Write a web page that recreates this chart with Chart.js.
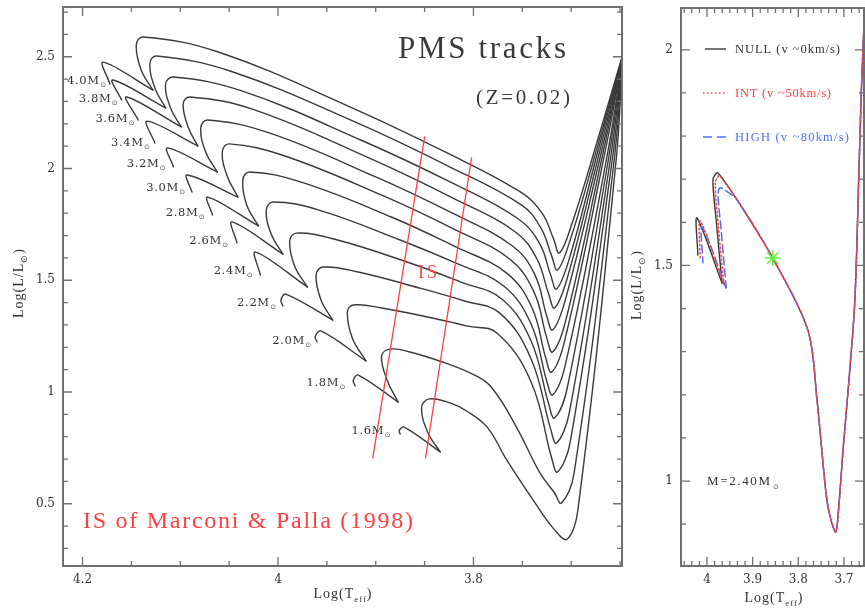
<!DOCTYPE html>
<html>
<head>
  <title>PMS tracks</title>
  <script src="https://cdn.jsdelivr.net/npm/chart.js"></script>
  <style>
    body { margin: 0; background: #fff; }
    #wrap { position: relative; width: 865px; height: 610px; overflow: hidden; }
    canvas { position: absolute; top: 0; }
    #left { left: 0; }
    #right { left: 625px; }
  </style>
</head>
<body>
<div id="wrap">
  <canvas id="left" width="625" height="610"></canvas>
  <canvas id="right" width="240" height="610"></canvas>
</div>
<script>
// ---- left panel: PMS tracks, [logTeff, logL], from Hayashi end to the V tip ----
const masses = ['1.6', '1.8', '2.0', '2.2', '2.4', '2.6', '2.8', '3.0', '3.2', '3.4', '3.6', '3.8', '4.0'];

const trk16 = [[3.648,2.445],[3.654,2.038],[3.693,0.477],[3.704,0.342],[3.717,0.383],[3.739,0.517],[3.766,0.696],[3.786,0.843],[3.807,0.915],[3.824,0.951],[3.845,0.969],[3.853,0.933],[3.847,0.821],[3.834,0.732]];
const trk18 = [[3.648,2.450],[3.656,2.038],[3.697,0.638],[3.710,0.503],[3.717,0.548],[3.732,0.638],[3.756,0.843],[3.781,1.018],[3.799,1.076],[3.829,1.130],[3.865,1.179],[3.885,1.192],[3.894,1.161],[3.888,1.049],[3.877,0.955]];
const trk20 = [[3.648,2.454],[3.658,2.038],[3.701,0.776],[3.714,0.642],[3.720,0.705],[3.741,1.045],[3.776,1.264],[3.806,1.295],[3.842,1.331],[3.894,1.376],[3.923,1.389],[3.929,1.358],[3.924,1.242],[3.910,1.139]];
const trk22 = [[3.648,2.459],[3.660,2.038],[3.702,0.906],[3.715,0.772],[3.721,0.834],[3.741,1.148],[3.773,1.353],[3.809,1.407],[3.855,1.465],[3.918,1.537],[3.954,1.559],[3.961,1.523],[3.956,1.412],[3.944,1.322]];
const trk24 = [[3.648,2.463],[3.662,2.038],[3.704,1.018],[3.717,0.884],[3.723,0.946],[3.741,1.228],[3.771,1.416],[3.813,1.492],[3.865,1.577],[3.939,1.680],[3.981,1.711],[3.988,1.676],[3.983,1.564],[3.970,1.470]];
const trk26 = [[3.648,2.467],[3.664,2.038],[3.706,1.121],[3.719,0.987],[3.725,1.049],[3.741,1.304],[3.769,1.474],[3.816,1.573],[3.875,1.680],[3.958,1.814],[4.005,1.850],[4.012,1.814],[4.007,1.707],[3.995,1.617]];
const trk28 = [[3.648,2.472],[3.667,2.038],[3.707,1.224],[3.720,1.089],[3.726,1.152],[3.740,1.376],[3.766,1.532],[3.818,1.649],[3.884,1.783],[3.977,1.940],[4.029,1.984],[4.036,1.949],[4.032,1.837],[4.020,1.743]];
const trk30 = [[3.648,2.476],[3.669,2.038],[3.706,1.313],[3.719,1.179],[3.725,1.242],[3.738,1.447],[3.763,1.595],[3.820,1.729],[3.892,1.877],[3.993,2.056],[4.050,2.110],[4.057,2.074],[4.052,1.966],[4.041,1.872]];
const trk32 = [[3.648,2.481],[3.671,2.038],[3.706,1.412],[3.719,1.277],[3.725,1.340],[3.737,1.523],[3.760,1.653],[3.822,1.801],[3.900,1.962],[4.009,2.159],[4.072,2.217],[4.079,2.181],[4.074,2.074],[4.062,1.984]];
const trk34 = [[3.648,2.485],[3.673,2.038],[3.704,1.510],[3.717,1.376],[3.723,1.438],[3.735,1.595],[3.757,1.716],[3.823,1.872],[3.907,2.047],[4.024,2.262],[4.090,2.320],[4.097,2.289],[4.092,2.186],[4.082,2.101]];
const trk36 = [[3.648,2.490],[3.675,2.038],[3.702,1.595],[3.715,1.461],[3.721,1.523],[3.732,1.662],[3.754,1.774],[3.824,1.940],[3.913,2.123],[4.037,2.347],[4.107,2.409],[4.115,2.378],[4.110,2.271],[4.099,2.186]];
const trk38 = [[3.648,2.494],[3.677,2.038],[3.701,1.680],[3.714,1.546],[3.720,1.609],[3.731,1.734],[3.751,1.837],[3.826,2.011],[3.919,2.204],[4.049,2.436],[4.124,2.503],[4.131,2.472],[4.126,2.360],[4.115,2.271]];
const trk40 = [[3.648,2.499],[3.679,2.038],[3.699,1.756],[3.712,1.622],[3.718,1.685],[3.730,1.801],[3.752,1.895],[3.829,2.074],[3.926,2.275],[4.061,2.521],[4.138,2.588],[4.145,2.553],[4.140,2.441],[4.128,2.351]];

// last hook: V tip -> small peak -> ZAMS end
const hook16 = [[3.834,0.732],[3.871,0.843],[3.876,0.827],[3.875,0.812]];
const hook18 = [[3.877,0.955],[3.918,1.076],[3.923,1.051],[3.921,1.027]];
const hook20 = [[3.910,1.139],[3.956,1.273],[3.962,1.248],[3.960,1.224]];
const hook22 = [[3.944,1.322],[3.992,1.438],[3.997,1.411],[3.995,1.385]];
const hook24 = [[3.970,1.470],[4.023,1.626],[4.018,1.523]];
const hook26 = [[3.995,1.617],[4.047,1.761],[4.042,1.667]];
const hook28 = [[4.020,1.743],[4.072,1.872],[4.067,1.792]];
const hook30 = [[4.041,1.872],[4.093,1.971],[4.088,1.895]];
const hook32 = [[4.062,1.984],[4.113,2.092],[4.107,2.007]];
const hook34 = [[4.082,2.101],[4.134,2.212],[4.126,2.114]];
const hook36 = [[4.099,2.186],[4.155,2.320],[4.143,2.217]];
const hook38 = [[4.115,2.271],[4.169,2.396],[4.160,2.306]];
const hook40 = [[4.128,2.351],[4.179,2.476],[4.172,2.378]];

// where each mass label sits (the sun symbol), same order as masses
const labelAt = [[3.888,0.808],[3.934,1.022],[3.969,1.210],[4.005,1.380],[4.029,1.523],[4.054,1.658],[4.078,1.783],[4.098,1.895],[4.118,2.002],[4.134,2.096],[4.150,2.204],[4.167,2.293],[4.179,2.374]];

// instability strip edges (Marconi & Palla 1998)
const isBlue = [[3.850,2.141],[3.903,0.705]];
const isRed = [[3.802,2.047],[3.849,0.705]];

const leftXTicks = [4.2, 4.0, 3.8];
const leftYTicks = [0.5, 1, 1.5, 2, 2.5];

// ---- right panel: 2.40 Msun with rotation ----
const rotShared = [[3.654,2.104],[3.661,1.930],[3.667,1.722],[3.676,1.420],[3.689,1.234],[3.702,1.072],[3.711,0.944],[3.718,0.882],[3.731,0.921],[3.740,0.979],[3.759,1.188],[3.779,1.350],[3.856,1.517],[3.934,1.652]];
const nullTop = [[3.967,1.703],[3.978,1.715],[3.987,1.698],[3.980,1.606],[3.967,1.459]];
const nullHook = [[3.967,1.459],[4.022,1.610],[4.020,1.524]];
const intTop = [[3.965,1.698],[3.974,1.708],[3.982,1.691],[3.976,1.601],[3.963,1.455]];
const intHook = [[3.963,1.455],[4.015,1.603],[4.015,1.517]];
const highTop = [[3.961,1.675],[3.972,1.680],[3.976,1.664],[3.969,1.582],[3.958,1.448]];
const highHook = [[3.958,1.448],[4.011,1.589],[4.009,1.506]];
const starPt = [[3.856,1.517]];

const rightXTicks = [4, 3.9, 3.8, 3.7];
const rightYTicks = [1, 1.5, 2];

// ---------------------------------------------------------------
const pts = a => a.map(([x, y]) => ({x, y}));
const INK = '#3a3a3a';
const RED = '#ff4040';
const BLUE = '#4d6dff';
const tickFont = {family: 'DejaVu Serif', size: 12};

function fitText(ctx, text, x, y, width, font, color) {
  ctx.save();
  ctx.font = font;
  ctx.fillStyle = color;
  ctx.textAlign = 'left';
  ctx.textBaseline = 'alphabetic';
  ctx.letterSpacing = '0px';
  const w = ctx.measureText(text).width;
  const n = [...text].length;
  if (n > 1 && width > w) ctx.letterSpacing = ((width - w) / (n - 1)) + 'px';
  ctx.fillText(text, x, y);
  ctx.restore();
}

// text with subscript parts: [[text, isSub], ...]
function rich(ctx, parts, x, y, size, rotate) {
  ctx.save();
  ctx.fillStyle = '#333';
  ctx.textAlign = 'left';
  ctx.textBaseline = 'alphabetic';
  ctx.letterSpacing = '1px';
  let w = 0;
  const items = parts.map(([t, sub]) => {
    const s = sub ? size * 0.62 : size;
    ctx.font = s + 'px "Liberation Serif"';
    const m = ctx.measureText(t).width;
    w += m;
    return [t, sub, s, m];
  });
  ctx.translate(x, y);
  if (rotate) ctx.rotate(-Math.PI / 2);
  let cx = -w / 2;
  items.forEach(([t, sub, s, m]) => {
    ctx.font = s + 'px "Liberation Serif"';
    ctx.fillText(t, cx, sub ? size * 0.62 : size * 0.35);
    cx += m;
  });
  ctx.restore();
}

function sun(ctx, x, y) {
  ctx.save();
  ctx.font = '7px "DejaVu Sans"';
  ctx.fillStyle = '#555';
  ctx.textAlign = 'center';
  ctx.textBaseline = 'middle';
  ctx.fillText('\u2299', x, y);
  ctx.restore();
}

function frame(chart, xStep, yStep, xMajor, yMajor) {
  const {ctx, chartArea: a, scales: {x, y}} = chart;
  const isMajor = (list, v) => list.some(m => Math.abs(m - v) < 1e-6);
  ctx.save();
  ctx.strokeStyle = '#707070';
  ctx.lineWidth = 1.3;
  ctx.beginPath();
  for (let k = Math.ceil(x.min / xStep - 1e-6); k * xStep <= x.max + 1e-9; k++) {
    const v = k * xStep, p = x.getPixelForValue(v);
    const len = isMajor(xMajor, v) ? 9 : 5;
    ctx.moveTo(p, a.bottom); ctx.lineTo(p, a.bottom - len);
    ctx.moveTo(p, a.top); ctx.lineTo(p, a.top + len);
  }
  for (let k = Math.ceil(y.min / yStep - 1e-6); k * yStep <= y.max + 1e-9; k++) {
    const v = k * yStep, p = y.getPixelForValue(v);
    const len = isMajor(yMajor, v) ? 9 : 5;
    ctx.moveTo(a.left, p); ctx.lineTo(a.left + len, p);
    ctx.moveTo(a.right, p); ctx.lineTo(a.right - len, p);
  }
  ctx.stroke();
  ctx.lineWidth = 2;
  ctx.strokeRect(a.left, a.top, a.right - a.left, a.bottom - a.top);
  ctx.restore();
}

function axes(xMin, xMax, yMin, yMax, yWidth, xTicks, yTicks) {
  const tk = {padding: 7, font: tickFont, color: '#333', autoSkip: false, maxRotation: 0, callback: v => String(v)};
  return {
    x: {
      type: 'linear', reverse: true, min: xMin, max: xMax,
      afterFit: s => { s.height = 44; s.paddingLeft = 0; s.paddingRight = 0; },
      afterBuildTicks: s => { s.ticks = xTicks.map(v => ({value: v})); },
      grid: {display: false, drawTicks: false}, border: {display: false},
      ticks: tk
    },
    y: {
      type: 'linear', min: yMin, max: yMax,
      afterFit: s => { s.width = yWidth; s.paddingTop = 0; s.paddingBottom = 0; },
      afterBuildTicks: s => { s.ticks = yTicks.map(v => ({value: v})); },
      grid: {display: false, drawTicks: false}, border: {display: false},
      ticks: Object.assign({}, tk, {padding: 8})
    }
  };
}

const line = (data, color, width, tension, dash) => ({
  data: pts(data), showLine: true, pointRadius: 0, borderColor: color, borderWidth: width,
  tension: tension, borderDash: dash || [], borderCapStyle: 'round', borderJoinStyle: 'round', fill: false
});

// ---- left chart ----
const tracks = [trk16, trk18, trk20, trk22, trk24, trk26, trk28, trk30, trk32, trk34, trk36, trk38, trk40];
const hooks = [hook16, hook18, hook20, hook22, hook24, hook26, hook28, hook30, hook32, hook34, hook36, hook38, hook40];

const leftDeco = {
  id: 'leftDeco',
  afterDatasetsDraw(chart) {
    const {ctx, scales: {x, y}} = chart;
    frame(chart, 0.05, 0.1, leftXTicks, leftYTicks);
    masses.forEach((m, i) => {
      const px = x.getPixelForValue(labelAt[i][0]);
      const py = y.getPixelForValue(labelAt[i][1]);
      fitText(ctx, m + 'M', px - 36, py - 1, 32, '11.5px "DejaVu Serif"', '#333');
      sun(ctx, px, py);
    });
    fitText(ctx, 'PMS tracks', 398, 58, 168, '31px "Liberation Serif"', '#3a3a3a');
    fitText(ctx, '(Z=0.02)', 476, 104, 94, '21px "Liberation Serif"', '#3a3a3a');
    fitText(ctx, 'IS', 418, 278, 19, '18px "Liberation Serif"', RED);
    fitText(ctx, 'IS of Marconi & Palla (1998)', 83, 528, 330, '24px "Liberation Serif"', RED);
    rich(ctx, [['Log(L/L', 0], ['\u2299', 1], [')', 0]], 18, 283, 14, true);
    rich(ctx, [['Log(T', 0], ['eff', 1], [')', 0]], 343, 593, 14, false);
  }
};

new Chart(document.getElementById('left'), {
  type: 'scatter',
  data: {
    datasets: [
      line(isBlue, RED, 1.3, 0),
      line(isRed, RED, 1.3, 0),
      ...tracks.map(t => line(t, INK, 1.4, 0.4)),
      ...hooks.map(h => line(h, INK, 1.4, 0.35))
    ]
  },
  options: {
    responsive: false, animation: false, events: [],
    layout: {autoPadding: false, padding: {top: 7, right: 3, left: 0, bottom: 0}},
    plugins: {legend: {display: false}, tooltip: {enabled: false}},
    scales: axes(3.648, 4.220, 0.2215, 2.7225, 63, leftXTicks, leftYTicks)
  },
  plugins: [leftDeco]
});

// ---- right chart ----
const rightDeco = {
  id: 'rightDeco',
  afterDatasetsDraw(chart) {
    const {ctx} = chart;
    frame(chart, 0.1 / 6, 0.1, rightXTicks, rightYTicks);
    ctx.save();
    ctx.lineWidth = 1.4;
    ctx.strokeStyle = INK;
    ctx.beginPath(); ctx.moveTo(80, 49); ctx.lineTo(101, 49); ctx.stroke();
    ctx.strokeStyle = RED; ctx.setLineDash([1.5, 2.5]);
    ctx.beginPath(); ctx.moveTo(78, 93); ctx.lineTo(102, 93); ctx.stroke();
    ctx.strokeStyle = BLUE; ctx.setLineDash([9, 5]);
    ctx.beginPath(); ctx.moveTo(78, 137); ctx.lineTo(102, 137); ctx.stroke();
    ctx.restore();
    fitText(ctx, 'NULL (v ~0km/s)', 110, 53, 105, '12.5px "Liberation Serif"', '#333');
    fitText(ctx, 'INT (v ~50km/s)', 110, 97, 96, '12.5px "Liberation Serif"', RED);
    fitText(ctx, 'HIGH (v ~80km/s)', 110, 141, 114, '12.5px "Liberation Serif"', BLUE);
    fitText(ctx, 'M=2.40M', 82, 485, 63, '13px "Liberation Serif"', '#333');
    sun(ctx, 151, 487);
    rich(ctx, [['Log(L/L', 0], ['\u2299', 1], [')', 0]], 11, 285, 14, true);
    rich(ctx, [['Log(T', 0], ['eff', 1], [')', 0]], 149, 597, 14, false);
  }
};

new Chart(document.getElementById('right'), {
  type: 'scatter',
  data: {
    datasets: [
      {data: pts(starPt), showLine: false, pointStyle: 'star', pointRadius: 8, borderColor: '#66ee44', borderWidth: 1.5},
      line(rotShared.concat(intTop), RED, 1.5, 0.3, [1.5, 2.5]),
      line(intHook, RED, 1.5, 0.3, [1.5, 2.5]),
      line(rotShared.concat(highTop), BLUE, 1.5, 0.3, [8, 4]),
      line(highHook, BLUE, 1.5, 0.3, [8, 4]),
      line(rotShared.concat(nullTop), INK, 1.4, 0.3),
      line(nullHook, INK, 1.4, 0.3)
    ]
  },
  options: {
    responsive: false, animation: false, events: [],
    layout: {autoPadding: false, padding: {top: 8, right: 1, left: 0, bottom: 0}},
    plugins: {legend: {display: false}, tooltip: {enabled: false}},
    scales: axes(3.656, 4.057, 0.803, 2.097, 56, rightXTicks, rightYTicks)
  },
  plugins: [rightDeco]
});
</script>
</body>
</html>
